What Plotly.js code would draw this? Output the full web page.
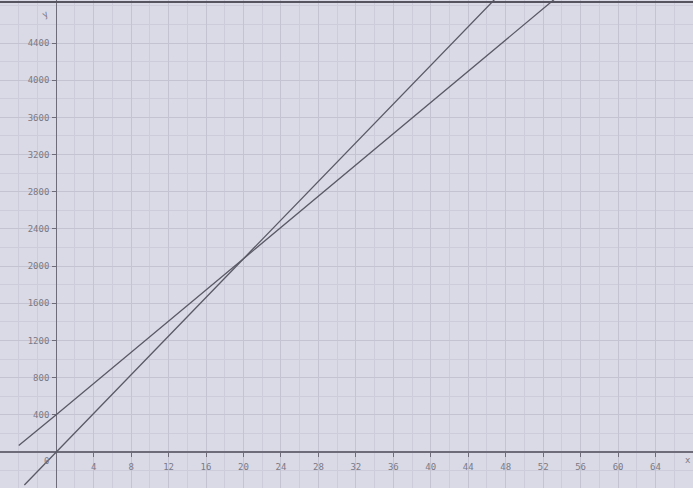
<!DOCTYPE html>
<html>
<head>
<meta charset="utf-8">
<script src="https://cdn.plot.ly/plotly-3.0.1.min.js"></script>
<style>html,body{margin:0;padding:0;background:#dad9e6;}#chart{width:693px;height:488px;}</style>
</head>
<body>
<div id="chart"></div>
<script>
// Values
const lineAX = [-3.4, 0, 20, 47.5];
const lineAY = [-355, 0, 2080, 4940];
const lineBX = [-4.0, 0, 20, 54.5];
const lineBY = [70, 400, 2080, 4980];
const xTickVals = [4, 8, 12, 16, 20, 24, 28, 32, 36, 40, 44, 48, 52, 56, 60, 64];
const yTickVals = [400, 800, 1200, 1600, 2000, 2400, 2800, 3200, 3600, 4000, 4400];
const xTickText = xTickVals.map(String);
const yTickText = yTickVals.map(String);

const xRange = [-6.0, 68.0];
const yRange = [-387, 4863];
const lineCol = '#5a5966';
const font = {family: 'DejaVu Sans Mono', size: 9, color: '#7a7985'};

const traces = [
  {x: lineAX, y: lineAY, mode: 'lines', line: {color: lineCol, width: 1.3}, hoverinfo: 'skip'},
  {x: lineBX, y: lineBY, mode: 'lines', line: {color: lineCol, width: 1.3}, hoverinfo: 'skip'}
];

const layout = {
  width: 693, height: 488,
  margin: {l: 0, r: 0, t: 0, b: 0},
  paper_bgcolor: '#dad9e6',
  plot_bgcolor: '#dad9e6',
  showlegend: false,
  font: font,
  xaxis: {
    range: xRange, anchor: 'free', position: (0 - yRange[0]) / (yRange[1] - yRange[0]),
    tickmode: 'array', tickvals: xTickVals, ticktext: xTickText,
    ticks: 'outside', ticklen: 4, tickcolor: '#6d6c78', tickwidth: 1,
    showline: false, zeroline: true, zerolinecolor: '#6d6c78', zerolinewidth: 1.3,
    showgrid: true, gridcolor: '#c4c3d2', gridwidth: 1,
    minor: {tickmode: 'linear', tick0: 0, dtick: 2, showgrid: true, gridcolor: '#cdccda', gridwidth: 1},
    tickfont: font, ticklabelstandoff: 2, fixedrange: true
  },
  yaxis: {
    range: yRange, anchor: 'free', position: (0 - xRange[0]) / (xRange[1] - xRange[0]),
    tickmode: 'array', tickvals: yTickVals, ticktext: yTickText,
    ticks: 'outside', ticklen: 4, tickcolor: '#6d6c78', tickwidth: 1,
    showline: false, zeroline: true, zerolinecolor: '#6d6c78', zerolinewidth: 1.3,
    showgrid: true, gridcolor: '#c4c3d2', gridwidth: 1,
    minor: {tickmode: 'linear', tick0: 0, dtick: 200, showgrid: true, gridcolor: '#cdccda', gridwidth: 1},
    tickfont: font, ticklabelstandoff: 1, fixedrange: true
  },
  shapes: [
    {type: 'line', xref: 'paper', yref: 'paper', x0: 0, x1: 1, y0: 0.996, y1: 0.996,
     line: {color: '#55545f', width: 2}}
  ],
  annotations: [
    {x: -0.6, y: 0, xref: 'x', yref: 'y', text: '0', showarrow: false,
     xanchor: 'right', yanchor: 'top', yshift: -2, font: font},
    {x: 1, y: 0, xref: 'paper', yref: 'y', text: 'x', showarrow: false,
     xanchor: 'right', yanchor: 'top', yshift: -1, font: font},
    {x: 0, y: 1, xref: 'x', yref: 'paper', text: 'y', showarrow: false,
     xanchor: 'right', yanchor: 'top', xshift: -3, yshift: -5, textangle: -30, font: font}
  ]
};

Plotly.newPlot('chart', traces, layout, {displayModeBar: false, staticPlot: true});
</script>
</body>
</html>
